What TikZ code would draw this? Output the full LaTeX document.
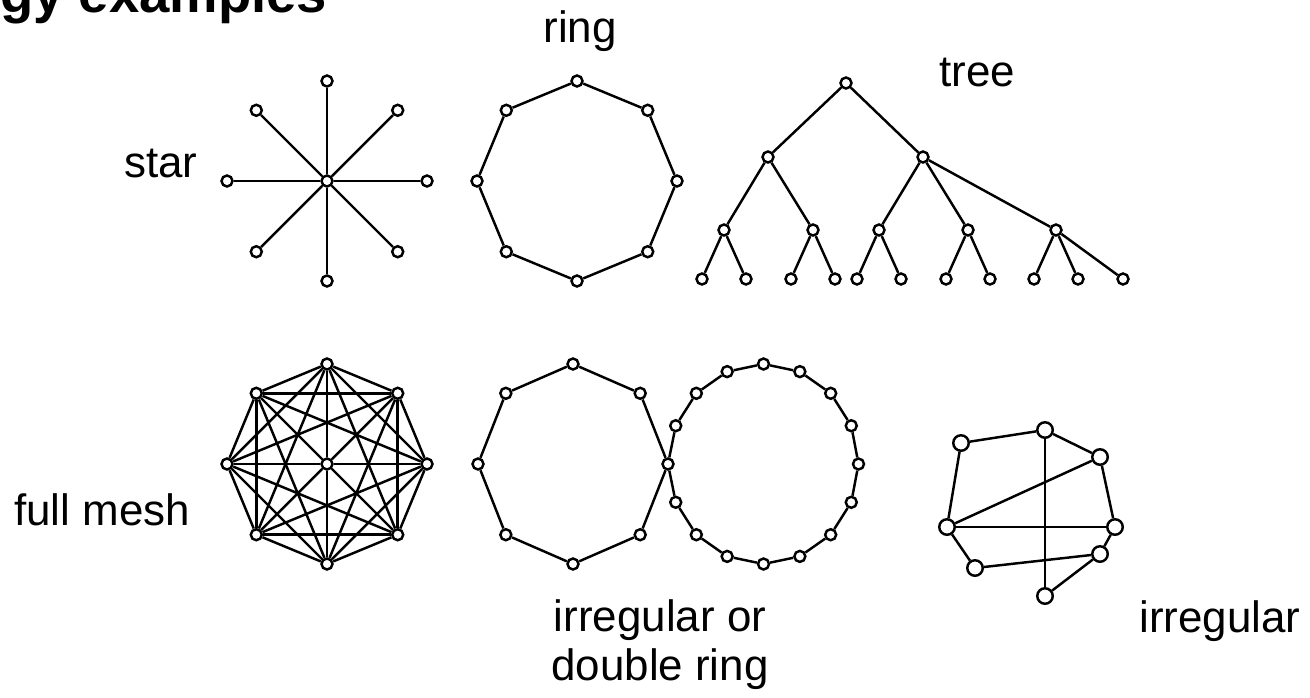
\documentclass[tikz,border=0pt]{standalone}
\usepackage{fontspec}
\setmainfont{Liberation Sans}
\usetikzlibrary{positioning}

\begin{document}
\begin{tikzpicture}[
    x=0.02cm, y=-0.02cm,
    every node/.style={font=\fontsize{25}{27.5}\selectfont},
    vertex/.style={circle, draw, fill=white, line width=1.4pt, inner sep=0pt, minimum size=0.22cm},
    bigvertex/.style={vertex, minimum size=0.31cm},
    link/.style={line width=1.4pt},
    ]
    \useasboundingbox (0,0) rectangle (1310,697);

    % Title (runs off the top edge)
    \node[anchor=base west, inner sep=0pt, font=\fontsize{31}{36}\selectfont\bfseries] (title) at (0,12) {gy examples};

    % Star
    \node[vertex] (sc) at (327,181) {};
    \foreach \a [count=\i] in {0,45,...,315} {
        \node[vertex] (s\i) at ({327+100*cos(\a)},{181-100*sin(\a)}) {};
        \draw[link] (sc) -- (s\i);
    }
    \node[anchor=base] (starlbl) at (161,177) {star};

    % Ring
    \foreach \a [count=\i from 0] in {0,45,...,315} {
        \node[vertex] (r\i) at ({577+100*cos(\a)},{181-100*sin(\a)}) {};
    }
    \foreach \i [remember=\i as \j (initially 7)] in {0,...,7} {
        \draw[link] (r\j) -- (r\i);
    }
    \node[anchor=base] (ringlbl) at (580,42) {ring};

    % Tree
    \node[vertex] (t) at (846,83) {};
    \node[vertex] (t1) at (768,157) {};
    \node[vertex] (t2) at (923,157) {};
    \node[vertex] (t11) at (724,230) {};
    \node[vertex] (t12) at (813,230) {};
    \node[vertex] (t21) at (879,230) {};
    \node[vertex] (t22) at (968,230) {};
    \node[vertex] (t23) at (1056,230) {};
    \foreach \p/\c in {t/t1, t/t2, t1/t11, t1/t12, t2/t21, t2/t22, t2/t23} {
        \draw[link] (\p) -- (\c);
    }
    \foreach \p/\x in {t11/702, t11/746, t12/791, t12/835, t21/857, t21/901,
                       t22/946, t22/990, t23/1034, t23/1078, t23/1123} {
        \node[vertex] (l\x) at (\x,279) {};
        \draw[link] (\p) -- (l\x);
    }
    \node[anchor=base] (treelbl) at (977,86) {tree};

    % Full mesh
    \node[vertex] (mc) at (327,464) {};
    \foreach \a [count=\i from 0] in {0,45,...,315} {
        \node[vertex] (m\i) at ({327+100*cos(\a)},{464-100*sin(\a)}) {};
    }
    \foreach \i in {0,...,7} {
        \foreach \d in {1,2,3} {
            \pgfmathtruncatemacro\k{mod(\i+\d,8)}
            \draw[link] (m\i) -- (m\k);
        }
    }
    \foreach \i in {0,...,3} {
        \pgfmathtruncatemacro\k{\i+4}
        \draw[link] (m\i) -- (mc) -- (m\k);
    }
    \node[anchor=base] (meshlbl) at (102,525) {full mesh};

    % Double ring: octagon and 16-ring sharing one node
    \foreach \a [count=\i from 0] in {0,45,...,315} {
        \ifnum\i=0
            \node[vertex, alias=e8] (d\i) at ({573+95*cos(\a)},{464-100*sin(\a)}) {};
        \else
            \node[vertex] (d\i) at ({573+95*cos(\a)},{464-100*sin(\a)}) {};
        \fi
    }
    \foreach \i [remember=\i as \j (initially 7)] in {0,...,7} {
        \draw[link] (d\j) -- (d\i);
    }
    \foreach \a [count=\i from 0] in {0,22.5,...,337.5} {
        \ifnum\i=8 \else
            \node[vertex] (e\i) at ({763.5+95*cos(\a)},{464-100*sin(\a)}) {};
        \fi
    }
    \foreach \i [remember=\i as \j (initially 15)] in {0,...,15} {
        \draw[link] (e\j) -- (e\i);
    }
    \node[anchor=base, align=center] (dbllbl) at (660,680) {irregular or\\double ring};

    % Irregular
    \node[bigvertex] (ia) at (961,443) {};
    \node[bigvertex] (ib) at (1045,430) {};
    \node[bigvertex] (ic) at (1100,457) {};
    \node[bigvertex] (id) at (947,527) {};
    \node[bigvertex] (ie) at (1115,527) {};
    \node[bigvertex] (if) at (1100,554) {};
    \node[bigvertex] (ig) at (975,568) {};
    \node[bigvertex] (ih) at (1045,596) {};
    \foreach \u/\v in {ia/ib, ib/ic, ic/ie, ie/if, ia/id, id/ic, id/ie, id/ig, ig/if, if/ih, ib/ih} {
        \draw[link] (\u) -- (\v);
    }
    \node[anchor=base] (irrlbl) at (1220,632) {irregular};

\end{tikzpicture}
\end{document}
